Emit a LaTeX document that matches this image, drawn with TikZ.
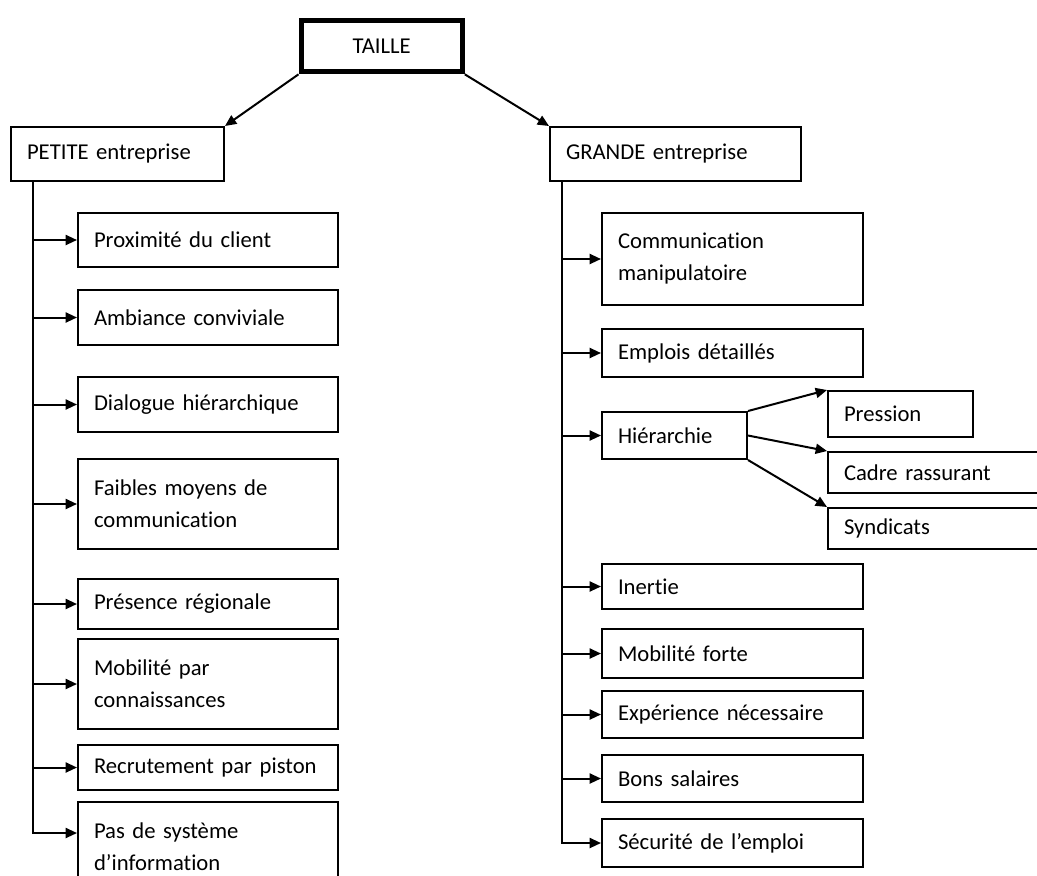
\documentclass[tikz,border=0pt]{standalone}
\usepackage{fontspec}
\setmainfont{Carlito}[Ligatures=NoCommon]
\usetikzlibrary{arrows.meta}
\tikzset{
	box/.style={draw,line width=1.5pt,anchor=north west,align=left,inner xsep=12pt,inner ysep=2pt,font=\fontsize{17}{24}\selectfont},
	leftbox/.style={box,minimum width=195pt,text width=171pt},
	rightbox/.style={box,minimum width=195.75pt,text width=171.75pt},
	subbox/.style={box,minimum width=108.75pt,text width=84.75pt},
	widebox/.style={box,minimum width=172.5pt,text width=148.5pt},
	arr/.style={line width=1.5pt,-{Triangle[length=8.5pt,width=7.5pt]}}
}
\begin{document}
\begin{tikzpicture}[x=0.75pt,y=-0.75pt]
	\useasboundingbox (0,0) rectangle (1037,875);
	\node[box,line width=4pt,align=center,minimum width=120.75pt,minimum height=38.25pt] (taille) at (298.5,18) {TAILLE};
	\node[box,minimum width=159.75pt,text width=135.75pt,minimum height=40.5pt] (petite) at (10,126) {PETITE entreprise};
	\node[box,minimum width=188.25pt,text width=164.25pt,minimum height=40.5pt] (grande) at (549,126) {GRANDE entreprise};
	\draw[arr] (taille.south west) -- (petite.north east);
	\draw[arr] (taille.south east) -- (grande.north west);
	% petite entreprise
	\node[leftbox,minimum height=40.5pt] (prox) at (77,212) {Proximité du client};
	\node[leftbox,minimum height=41.25pt] (amb) at (77,289) {Ambiance conviviale};
	\node[leftbox,minimum height=41.25pt] (dial) at (77,376) {Dialogue hiérarchique};
	\node[leftbox,minimum height=67.5pt] (faib) at (77,458) {Faibles moyens de\\communication};
	\node[leftbox,minimum height=37.5pt] (reg) at (77,578) {Présence régionale};
	\node[leftbox,minimum height=67.5pt] (mobc) at (77,638) {Mobilité par\\connaissances};
	\node[leftbox,minimum height=33.75pt] (recr) at (77,744) {Recrutement par piston};
	\node[leftbox,minimum height=67.5pt] (pas) at (77,801) {Pas de système\\d’information};
	\coordinate (lt) at ([xshift=17.25pt]petite.south west);
	\coordinate (pasin) at ([yshift=-24pt]pas.north west);
	\draw[arr] (lt) |- (pasin);
	\foreach \n in {prox,amb,dial,faib,reg,mobc,recr}
		\draw[arr] (lt |- \n.west) -- (\n.west);
	% grande entreprise
	\node[rightbox,minimum height=69pt] (comm) at (601,212) {Communication\\manipulatoire};
	\node[rightbox,minimum height=36pt] (empl) at (601,328) {Emplois détaillés};
	\node[subbox,minimum height=35.25pt] (hier) at (601,411) {Hiérarchie};
	\node[subbox,minimum height=34.5pt] (press) at (827,390) {Pression};
	\node[widebox,minimum height=30.75pt] (cadre) at (827,451) {Cadre rassurant};
	\node[widebox,minimum height=30.75pt] (synd) at (827,507) {Syndicats};
	\node[rightbox,minimum height=33.75pt] (inert) at (601,563) {Inertie};
	\node[rightbox,minimum height=36.75pt] (mobf) at (601,628) {Mobilité forte};
	\node[rightbox,minimum height=35.25pt] (expe) at (601,690) {Expérience nécessaire};
	\node[rightbox,minimum height=35.25pt] (bons) at (601,754) {Bons salaires};
	\node[rightbox,minimum height=36pt] (secu) at (601,818) {Sécurité de l’emploi};
	\coordinate (rt) at ([xshift=9.75pt]grande.south west);
	\draw[arr] (rt) |- (secu.west);
	\foreach \n in {comm,empl,hier,inert,mobf,expe,bons}
		\draw[arr] (rt |- \n.west) -- (\n.west);
	\draw[arr] (hier.north east) -- (press.north west);
	\draw[arr] (hier.east) -- (cadre.north west);
	\draw[arr] (hier.south east) -- (synd.north west);
\end{tikzpicture}
\end{document}
